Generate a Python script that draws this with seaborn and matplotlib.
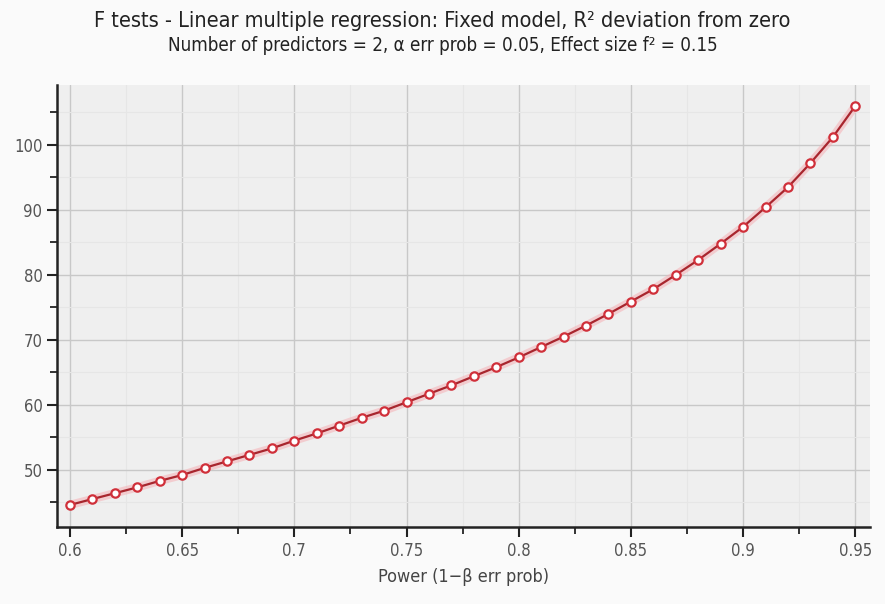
import matplotlib
matplotlib.use("Agg")
import matplotlib.pyplot as plt
from matplotlib.ticker import MultipleLocator, FuncFormatter
import seaborn as sns
import pandas as pd

# Power (1-beta) vs total sample size
power = [0.60, 0.61, 0.62, 0.63, 0.64, 0.65, 0.66, 0.67, 0.68, 0.69,
         0.70, 0.71, 0.72, 0.73, 0.74, 0.75, 0.76, 0.77, 0.78, 0.79,
         0.80, 0.81, 0.82, 0.83, 0.84, 0.85, 0.86, 0.87, 0.88, 0.89,
         0.90, 0.91, 0.92, 0.93, 0.94, 0.95]
total_n = [44.6, 45.5, 46.4, 47.3, 48.3, 49.2, 50.3, 51.3, 52.3, 53.3,
           54.5, 55.6, 56.8, 58.0, 59.1, 60.4, 61.7, 63.0, 64.4, 65.8,
           67.3, 68.9, 70.5, 72.2, 74.0, 75.9, 77.8, 80.0, 82.3, 84.8,
           87.4, 90.4, 93.5, 97.2, 101.2, 106.0]
x_ticks = [0.6, 0.65, 0.7, 0.75, 0.8, 0.85, 0.9, 0.95]
y_ticks = [50, 60, 70, 80, 90, 100]

title = "F tests - Linear multiple regression: Fixed model, R² deviation from zero"
subtitle = "Number of predictors = 2, α err prob = 0.05, Effect size f² = 0.15"
xlabel = "Power (1−β err prob)"

df = pd.DataFrame({"power": power, "n": total_n})

sns.set_theme(style="whitegrid")
plt.rcParams['font.family'] = ['DejaVu Sans']
plt.rcParams['font.stretch'] = 'condensed'

fig = plt.figure(figsize=(8.85, 6.04), dpi=100, facecolor="#fafafa")
ax = fig.add_axes([0.0644, 0.1275, 0.919, 0.7315])
ax.set_facecolor("#efefef")

# soft pink glow under the line
sns.lineplot(data=df, x="power", y="n", ax=ax, color="#f6b0b5", lw=6, alpha=0.55, zorder=2)
sns.lineplot(data=df, x="power", y="n", ax=ax, color="#a8262e", lw=1.6,
             marker="o", markersize=6, markerfacecolor="white",
             markeredgecolor="#d0303a", markeredgewidth=1.6, zorder=3)

ax.set_xlim(0.5942, 0.9567)
ax.set_ylim(41.2, 109.2)
ax.set_xticks(x_ticks)
ax.set_yticks(y_ticks)
ax.xaxis.set_minor_locator(MultipleLocator(0.025))
ax.yaxis.set_minor_locator(MultipleLocator(5))
ax.xaxis.set_major_formatter(FuncFormatter(lambda v, p: f"{v:g}"))

ax.grid(True, which="major", color="#c8c8c8", lw=1.0)
ax.grid(True, which="minor", color="#e6e6e6", lw=0.8)
ax.set_axisbelow(True)

for s in ["top", "right"]:
    ax.spines[s].set_visible(False)
for s in ["left", "bottom"]:
    ax.spines[s].set_visible(True)
    ax.spines[s].set_color("#222222")
    ax.spines[s].set_linewidth(1.8)

ax.tick_params(axis="both", which="major", direction="out", length=7, width=1.5,
               color="#222222", labelcolor="#555555", labelsize=12, left=True, bottom=True)
ax.tick_params(axis="both", which="minor", direction="out", length=5, width=1.3,
               color="#222222", left=True, bottom=True)

ax.set_xlabel(xlabel, fontsize=13, color="#444444", labelpad=6)
ax.set_ylabel("")

fig.text(0.5, 0.965, title, ha="center", va="center", fontsize=15.6, color="#222222")
fig.text(0.5, 0.925, subtitle, ha="center", va="center", fontsize=13.5, color="#222222")

fig.savefig("out.png", dpi=100, facecolor=fig.get_facecolor())
